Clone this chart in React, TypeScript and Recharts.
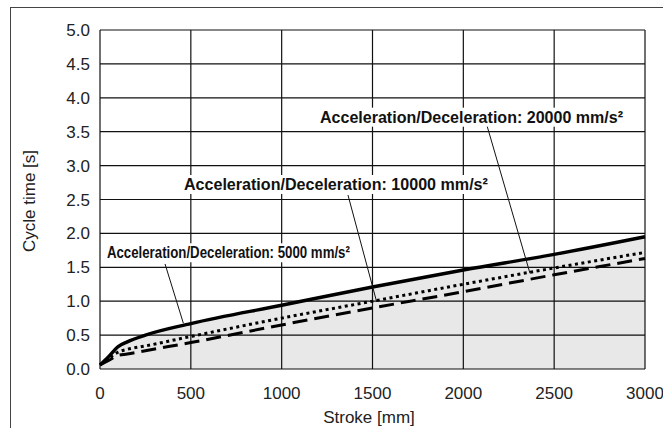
import React from "react";
import {
  Area,
  CartesianGrid,
  ComposedChart,
  Label,
  Line,
  ReferenceDot,
  ReferenceLine,
  XAxis,
  YAxis,
} from "recharts";

const strokes = [0, 50, 100, 150, 250, 500, 1000, 1500, 2000, 2500, 3000];
const acc5000 = [0.06, 0.19, 0.33, 0.4, 0.5, 0.67, 0.94, 1.21, 1.46, 1.69, 1.95];
const acc10000 = [0.06, 0.16, 0.25, 0.29, 0.34, 0.48, 0.75, 1.0, 1.25, 1.49, 1.72];
const acc20000 = [0.06, 0.13, 0.2, 0.22, 0.27, 0.39, 0.65, 0.9, 1.14, 1.39, 1.63];

const xTicks = [0, 500, 1000, 1500, 2000, 2500, 3000];
const yTicks = [0, 0.5, 1, 1.5, 2, 2.5, 3, 3.5, 4, 4.5, 5];

// annotation text, anchor (data coords) and leader line ends
const notes = [
  { text: "Acceleration/Deceleration: 20000 mm/s²", at: { x: 1211, y: 3.633 }, width: 303, from: { x: 2128, y: 3.61 }, to: { x: 2367, y: 1.41 } },
  { text: "Acceleration/Deceleration: 10000 mm/s²", at: { x: 462, y: 2.64 }, width: 304, from: { x: 1365, y: 2.566 }, to: { x: 1523, y: 0.99 } },
  { text: "Acceleration/Deceleration: 5000 mm/s²", at: { x: 38, y: 1.633 }, width: 243, from: { x: 358, y: 1.549 }, to: { x: 459, y: 0.674 } },
];

const data = strokes.map((s, i) => ({
  stroke: s,
  a5000: acc5000[i],
  a10000: acc10000[i],
  a20000: acc20000[i],
}));

const font = "'Liberation Sans', Arial, Helvetica, sans-serif";

export default function App() {
  return (
    <div style={{ position: "absolute", left: 0, top: 0, width: 663, height: 428, background: "#fff", overflow: "hidden" }}>
      <div
        style={{
          position: "absolute",
          left: 10,
          top: 7,
          width: 700,
          height: 500,
          border: "1.5px solid #444",
        }}
      />
      <ComposedChart
        width={663}
        height={428}
        data={data}
        margin={{ top: 30, right: 18, left: 40, bottom: 29 }}
        style={{ position: "absolute", left: 0, top: 0 }}
      >
        <CartesianGrid stroke="#111" strokeWidth={1.2} horizontalValues={yTicks} verticalValues={xTicks} />
        <XAxis
          dataKey="stroke"
          type="number"
          domain={[0, 3000]}
          ticks={xTicks}
          axisLine={false}
          tickLine={false}
          tickSize={16}
          height={30}
          tick={{ fill: "#222", fontSize: 17, fontFamily: font }}
        >
          <Label
            content={() => (
              <text x={369} y={423} textAnchor="middle" fill="#222" fontSize={17} fontFamily={font}>
                Stroke [mm]
              </text>
            )}
          />
        </XAxis>
        <YAxis
          type="number"
          domain={[0, 5]}
          ticks={yTicks}
          axisLine={false}
          tickLine={false}
          tickSize={8}
          width={60}
          tickFormatter={(v: number) => v.toFixed(1)}
          tick={{ fill: "#222", fontSize: 17, fontFamily: font }}
        >
          <Label
            content={() => (
              <text
                x={0}
                y={0}
                transform="translate(35 201) rotate(-90)"
                textAnchor="middle"
                fill="#222"
                fontSize={17}
                fontFamily={font}
              >
                Cycle time [s]
              </text>
            )}
          />
        </YAxis>
        <Area
          type="monotone"
          dataKey="a5000"
          stroke="none"
          fill="#000"
          fillOpacity={0.09}
          isAnimationActive={false}
        />
        <Line type="monotone" dataKey="a20000" stroke="#000" strokeWidth={3} strokeDasharray="15 7" dot={false} isAnimationActive={false} />
        <Line type="monotone" dataKey="a10000" stroke="#000" strokeWidth={3} strokeDasharray="3 3.5" dot={false} isAnimationActive={false} />
        <Line type="monotone" dataKey="a5000" stroke="#000" strokeWidth={3.4} dot={false} isAnimationActive={false} />
        {notes.map((n) => (
          <ReferenceLine
            key={"l" + n.text}
            segment={[n.from, n.to]}
            stroke="#111"
            strokeWidth={1}
            ifOverflow="visible"
          />
        ))}
        {notes.map((n) => (
          <ReferenceDot
            key={"t" + n.text}
            x={n.at.x}
            y={n.at.y}
            r={0}
            ifOverflow="visible"
            shape={(p: any) => (
              <g>
                <rect x={p.cx - 3} y={p.cy - 15} width={n.width + 6} height={19} fill="#fff" />
                <text
                  x={p.cx}
                  y={p.cy}
                  fontFamily={font}
                  fontWeight="bold"
                  fontSize={17}
                  fill="#111"
                  textLength={n.width}
                  lengthAdjust="spacingAndGlyphs"
                >
                  {n.text}
                </text>
              </g>
            )}
          />
        ))}
      </ComposedChart>
    </div>
  );
}
